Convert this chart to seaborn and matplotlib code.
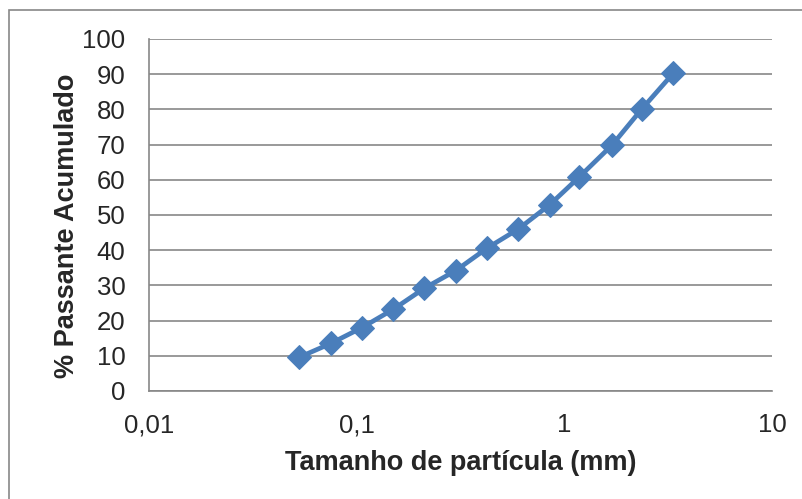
import matplotlib
matplotlib.use("Agg")
import matplotlib.pyplot as plt
import matplotlib.ticker as mticker
import pandas as pd
import seaborn as sns

# granulometric data: sieve opening (mm) vs cumulative % passing
tamanho_mm = [0.053, 0.075, 0.106, 0.150, 0.212, 0.300, 0.425, 0.600,
              0.850, 1.18, 1.70, 2.36, 3.35]
passante = [9.6, 13.5, 18.0, 23.2, 29.2, 34.2, 40.6, 46.0,
            52.9, 60.8, 69.9, 80.1, 90.3]

x_ticks = [0.01, 0.1, 1, 10]
x_ticklabels = ["0,01", "0,1", "1", "10"]
y_ticks = list(range(0, 101, 10))

df = pd.DataFrame({"tamanho": tamanho_mm, "passante": passante})

sns.set_style("white")
plt.rcParams["font.family"] = ["Liberation Sans", "DejaVu Sans"]

fig = plt.figure(figsize=(8.03, 4.99), dpi=100)
ax = fig.add_axes([149 / 803, 108 / 499, 623 / 803, 352 / 499])

# outer chart frame (clipped at right/bottom like the source)
fig.patches.append(plt.Rectangle((9 / 803, -0.1), 1.0, 0.1 + (499 - 10) / 499,
                                 transform=fig.transFigure, fill=False,
                                 edgecolor="#878787", linewidth=1.2))

sns.lineplot(data=df, x="tamanho", y="passante", ax=ax, color="#4A7EBB",
             linewidth=3.4, marker="D", markersize=12.5,
             markeredgecolor="#4A7EBB", zorder=3)

ax.set_xscale("log")
ax.set_xlim(0.01, 10)
ax.set_ylim(0, 100)
ax.set_xticks(x_ticks)
ax.set_xticklabels(x_ticklabels)
ax.xaxis.set_minor_locator(mticker.NullLocator())
ax.set_yticks(y_ticks)

ax.grid(axis="y", color="#878787", linewidth=1.2)
ax.grid(axis="x", visible=False)
ax.set_axisbelow(True)

for side in ["top", "right"]:
    ax.spines[side].set_visible(False)
for side in ["left", "bottom"]:
    ax.spines[side].set_color("#878787")
    ax.spines[side].set_linewidth(1.2)

ax.tick_params(axis="x", direction="inout", length=12, width=1.2,
               color="#878787", labelsize=18.5, pad=10)
ax.tick_params(axis="y", length=0, labelsize=18.5, pad=17)

ax.set_xlabel("Tamanho de partícula (mm)", fontsize=19.5, fontweight="bold",
              labelpad=9)
ax.set_ylabel("% Passante Acumulado", fontsize=19.5, fontweight="bold")
ax.yaxis.set_label_coords(-0.11, 0.47)

fig.savefig("out.png", dpi=100)
